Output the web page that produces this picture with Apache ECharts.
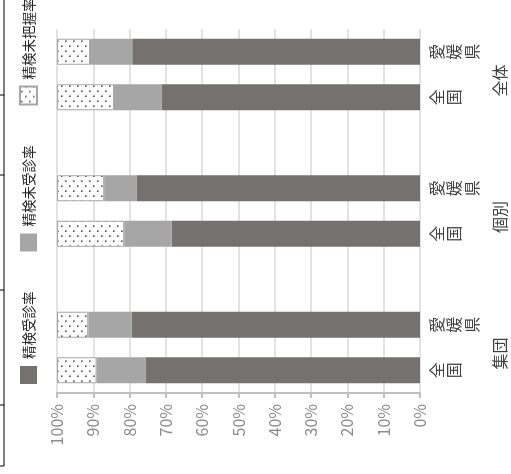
<!DOCTYPE html>
<html>
<head>
<meta charset="utf-8">
<script src="https://cdn.jsdelivr.net/npm/echarts@6/dist/echarts.min.js"></script>
<style>
html,body{margin:0;padding:0;width:511px;height:474px;overflow:hidden;background:#fff;}
#wrap{position:absolute;left:0;top:0;width:520px;height:511px;transform-origin:0 0;transform:translateY(474px) rotate(-90deg);}
#chart{width:520px;height:511px;}
</style>
</head>
<body>
<div id="wrap"><div id="chart"></div></div>
<script>
// categories (left to right in the unrotated chart)
const categories = ['全国', '愛媛県', '', '全国', '愛媛県', '', '全国', '愛媛県'];
const groups = ['集団', '個別', '全体'];
const seriesNames = ['精検受診率', '精検未受診率', '精検未把握率'];
// values in %
const jushin   = [75.6, 79.4, null, 68.4, 78.0, null, 71.2, 79.3];
const mijushin = [13.5, 12.0, null, 13.1,  9.0, null, 13.1, 11.6];
const mihaaku  = [10.9,  8.6, null, 18.5, 13.0, null, 15.7,  9.1];
const valueTicks = [0, 10, 20, 30, 40, 50, 60, 70, 80, 90, 100];

const FONT = '"Noto Sans CJK JP", "Noto Sans", sans-serif';

// dot pattern for 精検未把握率
const pat = document.createElement('canvas');
pat.width = 10; pat.height = 8;
const pc = pat.getContext('2d');
pc.fillStyle = '#ffffff'; pc.fillRect(0, 0, 10, 8);
pc.fillStyle = '#555555';
pc.fillRect(2, 1, 1.6, 1.6);
pc.fillRect(7, 5, 1.6, 1.6);

// group label positions (in category-band units)
const groupPos = groups.map((g, i) => 3 * i + 1);

const chart = echarts.init(document.getElementById('chart'), null, {renderer: 'canvas'});
chart.setOption({
  backgroundColor: '#ffffff',
  animation: false,
  textStyle: {fontFamily: FONT},
  legend: {
    data: seriesNames,
    left: 85, top: 14,
    icon: 'rect',
    itemWidth: 18, itemHeight: 17, itemGap: 40,
    textStyle: {fontSize: 13.5, color: '#262626', fontFamily: FONT, padding: [0, 0, 0, 2]}
  },
  grid: {left: 81, right: 75, top: 57, bottom: 91, containLabel: false},
  xAxis: [{
    type: 'category',
    data: categories,
    axisLine: {show: false},
    axisTick: {show: false},
    axisLabel: {
      interval: 0, margin: 8, fontSize: 16, lineHeight: 17.5, color: '#404040', fontFamily: FONT,
      formatter: v => v.split('').join('\n')
    }
  }, {
    type: 'value',
    position: 'bottom',
    min: 0, max: 8, interval: 1,
    axisLine: {show: false}, axisTick: {show: false}, splitLine: {show: false},
    axisLabel: {
      margin: 72, fontSize: 16, color: '#404040', fontFamily: FONT, padding: [0, 12, 0, 0],
      formatter: v => { const k = groupPos.indexOf(v); return k >= 0 ? groups[k] : ''; }
    }
  }],
  yAxis: {
    type: 'value', min: 0, max: 100, interval: 10,
    axisLine: {show: true, lineStyle: {color: '#bfbfbf', width: 2}},
    axisTick: {show: true, length: 5, lineStyle: {color: '#bfbfbf', width: 2}},
    splitLine: {lineStyle: {color: '#d9d9d9', width: 1.5}},
    axisLabel: {formatter: '{value}%', fontSize: 16, color: '#8c8c8c', margin: 11, fontFamily: FONT,
      customValues: valueTicks}
  },
  series: [
    {name: seriesNames[0], type: 'bar', stack: 'a', barWidth: 26, data: jushin,
     itemStyle: {color: '#767171'}},
    {name: seriesNames[1], type: 'bar', stack: 'a', barWidth: 26, data: mijushin,
     itemStyle: {color: '#a6a6a6'}},
    {name: seriesNames[2], type: 'bar', stack: 'a', barWidth: 26, data: mihaaku,
     itemStyle: {color: {image: pat, repeat: 'repeat'}, borderColor: '#a6a6a6', borderWidth: 1}}
  ],
  graphic: [
    {type: 'line', shape: {x1: 8, y1: 4, x2: 520, y2: 4}, style: {stroke: '#000', lineWidth: 1}},
    {type: 'line', shape: {x1: 8, y1: 0, x2: 8, y2: 4}, style: {stroke: '#000', lineWidth: 1}},
    {type: 'line', shape: {x1: 69, y1: 0, x2: 69, y2: 4}, style: {stroke: '#000', lineWidth: 1}},
    {type: 'line', shape: {x1: 184, y1: 0, x2: 184, y2: 4}, style: {stroke: '#000', lineWidth: 1}},
    {type: 'line', shape: {x1: 299, y1: 0, x2: 299, y2: 4}, style: {stroke: '#000', lineWidth: 1}},
    {type: 'line', shape: {x1: 379, y1: 0, x2: 379, y2: 4}, style: {stroke: '#000', lineWidth: 1}}
  ]
});
</script>
</body>
</html>
